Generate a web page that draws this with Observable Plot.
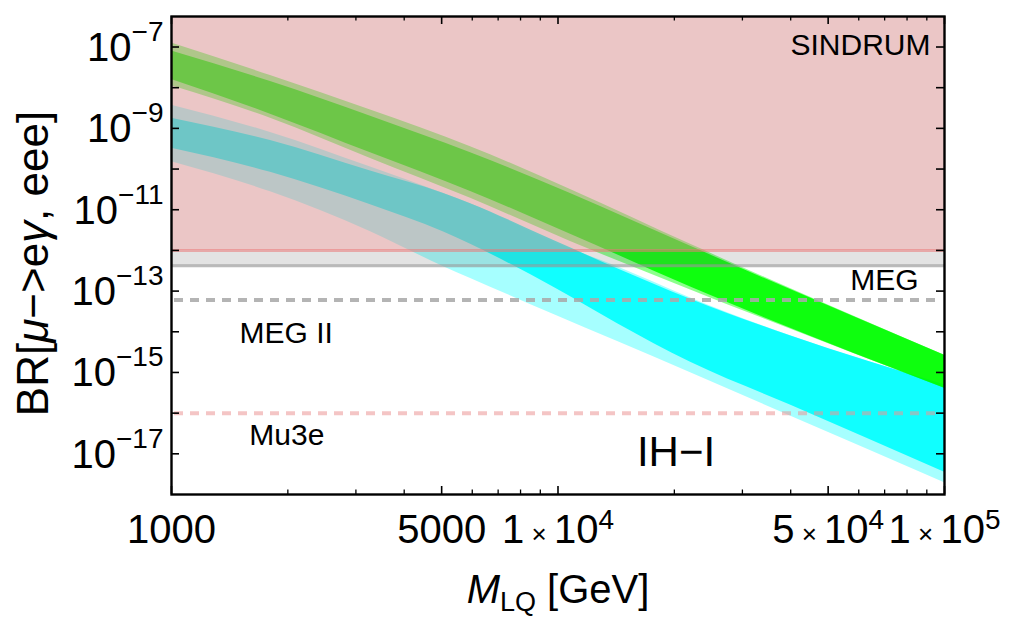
<!DOCTYPE html>
<html>
<head>
<meta charset="utf-8">
<script src="https://cdn.jsdelivr.net/npm/d3@7"></script>
<script src="https://cdn.jsdelivr.net/npm/@observablehq/plot@0.6"></script>
<style>
  html, body { margin: 0; padding: 0; background: #fff; overflow: hidden; }
  #chart svg { display: block; }
</style>
</head>
<body>
<div id="chart"></div>
<script>
// ---------------- data ----------------
// Leptoquark mass grid (GeV) along the green band and its log10(BR) edges
const greenMass = [1000, 1803, 3273, 5940, 10770, 22030, 100000];
const greenUpper = [-6.9, -7.70, -8.55, -9.45, -10.50, -11.85, -14.58];
const greenLower = [-7.95, -8.75, -9.74, -10.72, -11.78, -12.97, -15.39];
const greenCoreUpper = [-7.1, -7.85, -8.70, -9.60, -10.60, -11.90, -14.58];
const greenCoreLower = [-7.8, -8.65, -9.60, -10.55, -11.60, -12.90, -15.39];

// Mass grid along the cyan band and its log10(BR) edges
const cyanMass = [1000, 1803, 3273, 5060, 5940, 9720, 14260, 22030, 39900, 100000];
const cyanUpper = [-8.43, -9.10, -9.95, -10.60, -10.85, -11.80, -12.40, -13.17, -14.10, -15.30];
const cyanLower = [-9.82, -10.56, -11.54, -12.40, -12.69, -13.57, -14.24, -15.01, -16.07, -17.71];
const cyanCoreUpper = [-8.75, -9.30, -10.05, -10.60, -10.85, -11.75, -12.45, -13.20, -14.10, -15.30];
const cyanCoreLower = [-9.49, -10.08, -10.88, -11.55, -11.85, -12.90, -13.80, -14.75, -15.80, -17.45];

// Experimental limits
const limitNames = ["SINDRUM", "MEG", "MEG II", "Mu3e"];
const limitValues = [1e-12, 4.2e-13, 6e-14, 1e-16];

// Axes
const xDomain = [1000, 100000];
const yDomain = [1e-18, Math.pow(10, -6.25)];
const xMajorTicks = [1000, 5000, 10000, 50000, 100000];
const xMajorLabels = ["1000", "5000", "1 × 10^4", "5 × 10^4", "1 × 10^5"];
const xMinorTicks = [2000, 3000, 4000, 6000, 7000, 8000, 9000, 20000, 30000, 40000, 60000, 70000, 80000, 90000];
const yTickExps = [-17, -16, -15, -14, -13, -12, -11, -10, -9, -8, -7];
const yLabelExps = [-17, -15, -13, -11, -9, -7];

// Annotations
const annoEnd = [
  {text: "SINDRUM", x: 92000, y: 1.1e-7, size: 30},
  {text: "MEG", x: 85700, y: 1.85e-13, size: 30}
];
const annoStart = [
  {text: "MEG II", x: 1500, y: 9.3e-15, size: 30},
  {text: "Mu3e", x: 1590, y: 2.9e-17, size: 30},
  {text: "IH−I", x: 16000, y: 1.05e-17, size: 42}
];

// ---------------- build tables ----------------
const band = (mass, up, lo) => mass.map((m, i) => ({m, hi: Math.pow(10, up[i]), lo: Math.pow(10, lo[i])}));
const greenOuter = band(greenMass, greenUpper, greenLower);
const greenCore = band(greenMass, greenCoreUpper, greenCoreLower);
const cyanOuter = band(cyanMass, cyanUpper, cyanLower);
const cyanCore = band(cyanMass, cyanCoreUpper, cyanCoreLower);
const limits = limitNames.map((n, i) => ({name: n, value: limitValues[i]}));
const sindrumRegion = [{lo: limits[0].value, hi: yDomain[1]}];
const megRegion = [{lo: limits[1].value, hi: limits[0].value}];
const yTicks = yTickExps.map(e => Math.pow(10, e));
const yLabelVals = yLabelExps.map(e => Math.pow(10, e));

const W = 1011, H = 629;
const mL = 171, mR = 67, mT = 16, mB = 135;
const innerW = W - mL - mR, innerH = H - mT - mB;
const FONT = "'Liberation Sans', Arial, Helvetica, sans-serif";
const CURVE = "monotone-x";

const chart = Plot.plot({
  width: W, height: H,
  marginLeft: mL, marginRight: mR, marginTop: mT, marginBottom: mB,
  x: {type: "log", domain: xDomain, axis: null},
  y: {type: "log", domain: yDomain, axis: null},
  style: {fontFamily: FONT, background: "#fff", color: "#000", overflow: "visible"},
  marks: [
    // scan bands
    Plot.areaY(cyanOuter, {x: "m", y1: "lo", y2: "hi", curve: CURVE, fill: "#00ffff", fillOpacity: 0.35, clip: true}),
    Plot.areaY(cyanCore, {x: "m", y1: "lo", y2: "hi", curve: CURVE, fill: "#00ffff", fillOpacity: 0.9, clip: true}),
    Plot.areaY(greenOuter, {x: "m", y1: "lo", y2: "hi", curve: CURVE, fill: "#00ff00", fillOpacity: 0.45, clip: true}),
    Plot.areaY(greenCore, {x: "m", y1: "lo", y2: "hi", curve: CURVE, fill: "#00ff00", fillOpacity: 0.9, clip: true}),
    // excluded regions
    Plot.rect(sindrumRegion, {y1: "lo", y2: "hi", fill: "rgb(213,136,136)", fillOpacity: 0.48}),
    Plot.rect(megRegion, {y1: "lo", y2: "hi", fill: "rgb(100,100,100)", fillOpacity: 0.18}),
    // limit lines
    Plot.ruleY(limits.filter(d => d.name === "SINDRUM"), {y: "value", stroke: "rgb(235,120,120)", strokeOpacity: 0.55, strokeWidth: 3}),
    Plot.ruleY(limits.filter(d => d.name === "MEG"), {y: "value", stroke: "rgb(150,150,150)", strokeOpacity: 0.65, strokeWidth: 3}),
    Plot.ruleY(limits.filter(d => d.name === "MEG II"), {y: "value", stroke: "rgb(170,170,170)", strokeOpacity: 0.88, strokeWidth: 4, strokeDasharray: "9,7", insetLeft: 3, insetRight: 3}),
    Plot.ruleY(limits.filter(d => d.name === "Mu3e"), {y: "value", stroke: "rgb(235,150,150)", strokeOpacity: 0.55, strokeWidth: 4, strokeDasharray: "9,7", insetLeft: 3, insetRight: 3}),
    // annotations
    Plot.text(annoEnd, {x: "x", y: "y", text: "text", fontSize: "size", textAnchor: "end", lineAnchor: "middle", fill: "#000"}),
    Plot.text(annoStart, {x: "x", y: "y", text: "text", fontSize: "size", textAnchor: "start", lineAnchor: "middle", fill: "#000"}),
    // ticks (inward, on all four sides)
    Plot.tickX(xMajorTicks, {x: d => d, insetTop: innerH - 8, stroke: "#000", strokeWidth: 1.6}),
    Plot.tickX(xMajorTicks, {x: d => d, insetBottom: innerH - 8, stroke: "#000", strokeWidth: 1.6}),
    Plot.tickX(xMinorTicks, {x: d => d, insetTop: innerH - 4.5, stroke: "#000", strokeWidth: 1.3}),
    Plot.tickX(xMinorTicks, {x: d => d, insetBottom: innerH - 4.5, stroke: "#000", strokeWidth: 1.3}),
    Plot.tickY(yTicks, {y: d => d, insetRight: innerW - 8, stroke: "#000", strokeWidth: 1.6}),
    Plot.tickY(yTicks, {y: d => d, insetLeft: innerW - 8, stroke: "#000", strokeWidth: 1.6}),
    // tick labels
    Plot.text(xMajorTicks, {x: d => d, text: (d, i) => xMajorLabels[i], frameAnchor: "bottom", lineAnchor: "bottom", dy: 48, fontSize: 40, textAnchor: "middle", fill: "#000"}),
    Plot.text(yLabelVals, {y: d => d, text: (d, i) => "10^−" + (-yLabelExps[i]), frameAnchor: "left", textAnchor: "end", lineAnchor: "middle", dx: -8, dy: 1, fontSize: 40, fill: "#000"}),
    // axis labels
    Plot.text(["M_LQ [GeV]"], {text: d => d, frameAnchor: "bottom", lineAnchor: "bottom", dy: 108, fontSize: 40, textAnchor: "middle", fill: "#000"}),
    Plot.text(["BR[μ−>eγ, eee]"], {text: d => d, frameAnchor: "left", rotate: -90, lineAnchor: "bottom", textAnchor: "middle", dx: 47 - mL, dy: 8, fontSize: 44, fill: "#000"}),
    Plot.frame({stroke: "#000", strokeWidth: 2.4})
  ]
});

// ---------------- rich text (superscripts, italics) ----------------
const NS = "http://www.w3.org/2000/svg";
function span(parent, txt, attrs) {
  const t = document.createElementNS(NS, "tspan");
  t.textContent = txt;
  for (const k in attrs) t.setAttribute(k, attrs[k]);
  parent.appendChild(t);
  return t;
}
chart.querySelectorAll("text").forEach(t => {
  const s = t.textContent;
  if (s.includes("^")) {
    const [b, e] = s.split("^");
    const isY = !b.includes("×");
    t.textContent = "";
    if (isY) {
      span(t, b, {});
    } else {
      const [m, rest] = b.split("×");
      span(t, m.trim(), {});
      span(t, " × ", {"font-size": 26});
      span(t, rest.trim(), {});
    }
    span(t, e, {"font-size": 28, dy: isY ? -20 : -14});
  } else if (s === "M_LQ [GeV]") {
    t.textContent = "";
    span(t, "M", {"font-style": "italic"});
    span(t, "LQ", {"font-size": 27, dy: 8});
    span(t, " [GeV]", {dy: -8});
  } else if (s === "BR[μ−>eγ, eee]") {
    t.textContent = "";
    span(t, "BR[", {});
    span(t, "μ", {"font-style": "italic"});
    span(t, "−>e", {});
    span(t, "γ", {"font-style": "italic"});
    span(t, ", eee]", {});
  }
});

document.getElementById("chart").appendChild(chart);
</script>
</body>
</html>
